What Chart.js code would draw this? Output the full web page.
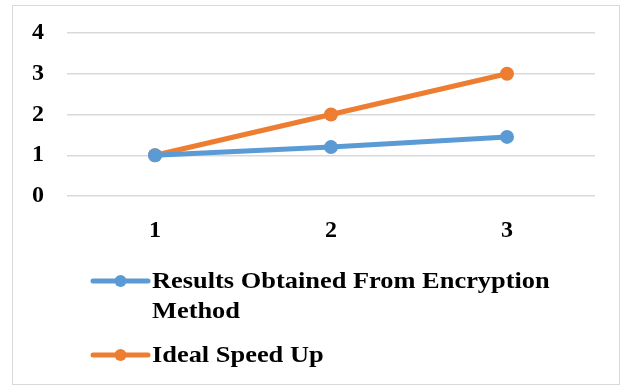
<!DOCTYPE html>
<html>
<head>
<meta charset="utf-8">
<script src="https://cdn.jsdelivr.net/npm/chart.js@4/dist/chart.umd.min.js"></script>
<style>
  html, body { margin: 0; padding: 0; background: #ffffff; }
  #wrap { width: 627px; height: 388px; position: relative; }
</style>
</head>
<body>
<div id="wrap"><canvas id="chart" width="627" height="388"></canvas></div>
<script>
// Processor counts on the x axis
const categories = ['1', '2', '3'];
// Measured speed-up of the encryption method
const encryptionResults = [1, 1.2, 1.45];
// Linear (ideal) speed-up
const idealSpeedUp = [1, 2, 3];
// Y axis tick values
const yTicks = [0, 1, 2, 3, 4];

const seriesNames = ['Results Obtained From Encryption Method', 'Ideal Speed Up'];
const seriesColors = ['#5B9BD5', '#ED7D31'];
const FONT_FAMILY = '"Liberation Serif", "Times New Roman", serif';

// White background plus a thin frame around the whole figure
const framePlugin = {
  id: 'frame',
  beforeDraw(chart) {
    const ctx = chart.ctx;
    ctx.save();
    ctx.fillStyle = '#ffffff';
    ctx.fillRect(0, 0, chart.width, chart.height);
    ctx.strokeStyle = '#d9d9d9';
    ctx.lineWidth = 1;
    ctx.strokeRect(12.5, 5.5, 607, 379);
    ctx.restore();
  }
};

// Vertical legend below the plot with word-wrapped, slightly widened labels
const wrappedLegend = {
  id: 'wrappedLegend',
  afterDraw(chart) {
    const ctx = chart.ctx;
    const lineX0 = 93, lineX1 = 148, textX = 152, maxW = 440;
    const sx = 1.1;
    const lineH = 30;
    let y = 281;
    ctx.save();
    ctx.font = 'bold 24px ' + FONT_FAMILY;
    ctx.textBaseline = 'middle';
    ctx.textAlign = 'left';
    chart.data.datasets.forEach((ds) => {
      // marker: line with a dot in the middle
      ctx.strokeStyle = ds.borderColor;
      ctx.lineWidth = 5;
      ctx.lineCap = 'round';
      ctx.beginPath();
      ctx.moveTo(lineX0, y);
      ctx.lineTo(lineX1, y);
      ctx.stroke();
      ctx.fillStyle = ds.borderColor;
      ctx.beginPath();
      ctx.arc((lineX0 + lineX1) / 2, y, 6, 0, Math.PI * 2);
      ctx.fill();
      // wrap label words
      const words = ds.label.split(' ');
      const lines = [];
      let cur = '';
      words.forEach((w) => {
        const test = cur ? cur + ' ' + w : w;
        if (ctx.measureText(test).width * sx > maxW && cur) {
          lines.push(cur);
          cur = w;
        } else {
          cur = test;
        }
      });
      if (cur) lines.push(cur);
      ctx.fillStyle = '#000000';
      lines.forEach((ln, i) => {
        ctx.save();
        ctx.translate(textX, y + i * lineH + 1);
        ctx.scale(sx, 1);
        ctx.fillText(ln, 0, 0);
        ctx.restore();
      });
      y += lines.length * lineH + 14;
    });
    ctx.restore();
  }
};

new Chart(document.getElementById('chart'), {
  type: 'line',
  data: {
    labels: categories,
    datasets: [
      {
        label: seriesNames[0],
        data: encryptionResults,
        borderColor: seriesColors[0],
        backgroundColor: seriesColors[0],
        borderWidth: 5,
        pointRadius: 7,
        pointHoverRadius: 7,
        pointBorderWidth: 0,
        tension: 0
      },
      {
        label: seriesNames[1],
        data: idealSpeedUp,
        borderColor: seriesColors[1],
        backgroundColor: seriesColors[1],
        borderWidth: 5,
        pointRadius: 7,
        pointHoverRadius: 7,
        pointBorderWidth: 0,
        tension: 0
      }
    ]
  },
  options: {
    responsive: false,
    animation: false,
    devicePixelRatio: 1,
    layout: { padding: { left: 12, right: 32, top: 33, bottom: 138 } },
    plugins: {
      legend: { display: false },
      tooltip: { enabled: false }
    },
    scales: {
      x: {
        offset: true,
        grid: { display: false, drawTicks: false },
        border: { display: false },
        ticks: {
          color: '#000000',
          padding: 20,
          font: { family: FONT_FAMILY, size: 24, weight: 'bold' }
        },
        afterFit(scale) { scale.height = 54; }
      },
      y: {
        min: yTicks[0],
        max: yTicks[yTicks.length - 1],
        afterBuildTicks(scale) { scale.ticks = yTicks.map(v => ({ value: v })); },
        grid: { color: '#d9d9d9', lineWidth: 1.5, drawTicks: false },
        border: { display: false },
        ticks: {
          color: '#000000',
          padding: 23,
          font: { family: FONT_FAMILY, size: 24, weight: 'bold', lineHeight: 0.8 }
        },
        afterFit(scale) { scale.width = 55; }
      }
    }
  },
  plugins: [framePlugin, wrappedLegend]
});
</script>
</body>
</html>
